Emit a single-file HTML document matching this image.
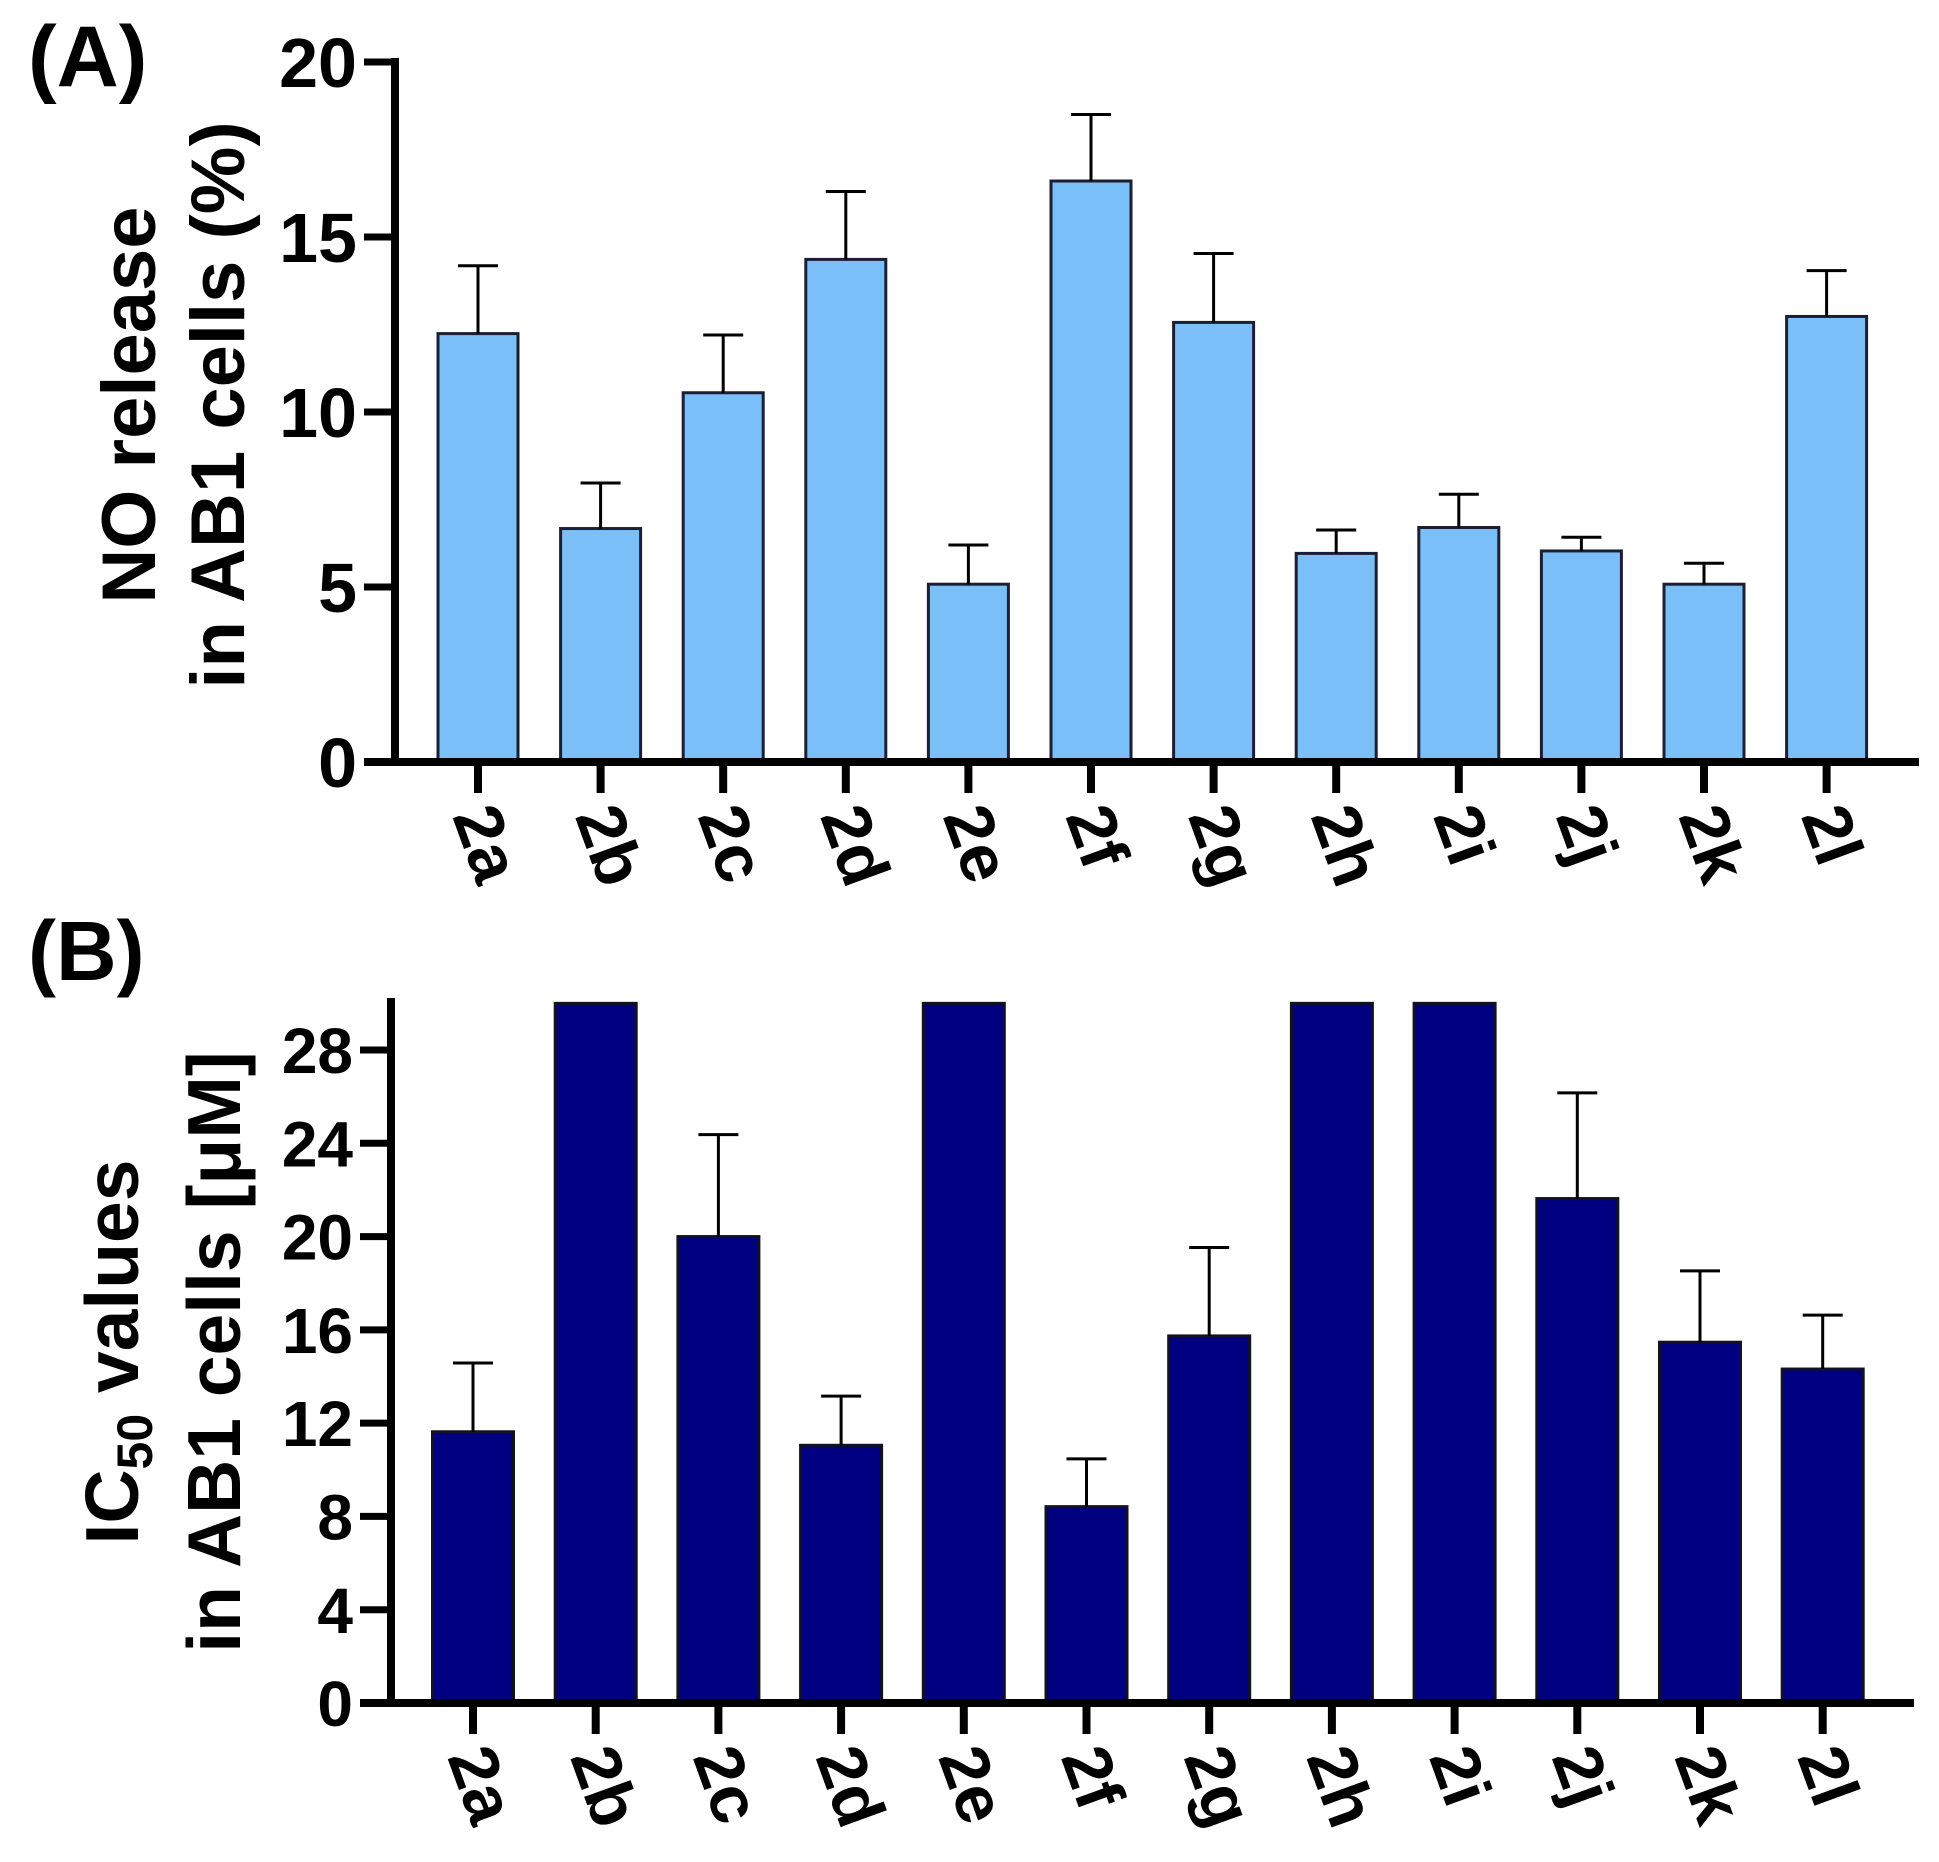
<!DOCTYPE html>
<html><head><meta charset="utf-8"><style>
html,body{margin:0;padding:0;background:#fff;}
svg{display:block;font-family:"Liberation Sans",Arial,sans-serif;font-weight:bold;}
</style></head><body>
<svg id="fig" width="1939" height="1862" viewBox="0 0 1939 1862">
<text x="28" y="86" font-size="86">(A)</text>
<text x="28" y="980" font-size="84">(B)</text>
<g>
<text transform="translate(155,405) rotate(-90)" text-anchor="middle" font-size="76">NO release</text>
<text transform="translate(244,405) rotate(-90)" text-anchor="middle" font-size="76">in AB1 cells (%)</text>
</g>
<g>
<text transform="translate(138,1352) rotate(-90)" text-anchor="middle" font-size="75">IC<tspan font-size="50" dy="14">50</tspan><tspan dy="-14"> values</tspan></text>
<text transform="translate(240,1352) rotate(-90)" text-anchor="middle" font-size="75">in AB1 cells [μM]</text>
</g>
<g id="chartA"></g>
<g id="chartB"></g>
</svg>
<script>
const categories = ["2a","2b","2c","2d","2e","2f","2g","2h","2i","2j","2k","2l"];
const noRelease = [12.24,6.67,10.55,14.36,5.08,16.6,12.56,5.96,6.7,6.03,5.08,12.73];
const noReleaseErr = [1.94,1.3,1.65,1.94,1.12,1.9,1.97,0.67,0.95,0.39,0.6,1.31];
const ic50 = [11.63,30,20.0,11.05,30,8.42,15.74,30,30,21.63,15.47,14.32];
const ic50Err = [2.95,0,4.37,2.11,0,2.05,3.79,0,0,4.53,3.06,2.31];
const ticksA = [0,5,10,15,20];
const ticksB = [0,4,8,12,16,20,24,28];

const NS="http://www.w3.org/2000/svg";
function mk(parent,tag,attrs){const e=document.createElementNS(NS,tag);for(const k in attrs)e.setAttribute(k,attrs[k]);parent.appendChild(e);return e;}

function drawChart(g,cfg){
  const yS=v=>cfg.y0-(v-cfg.ymin)*(cfg.y0-cfg.yTop)/(cfg.ymax-cfg.ymin);
  const xS=i=>cfg.x0c+i*cfg.pitch;
  cfg.vals.forEach((v,i)=>{
    const vv=Math.min(v,cfg.clip);
    const r=mk(g,'rect',{x:xS(i)-cfg.bw/2,y:yS(vv),width:cfg.bw,height:cfg.y0-yS(vv),fill:cfg.fill,stroke:cfg.stroke,'stroke-width':3});
    
    
    if(cfg.errs[i]>0){
      const top=yS(v+cfg.errs[i]);
      const l=mk(g,'path',{d:`M${xS(i)} ${yS(v)} V${top} M${xS(i)-20} ${top} H${xS(i)+20}`,stroke:'#000','stroke-width':3,fill:'none'});
      
      
    }
    const t=mk(g,'path',{d:`M${xS(i)} ${cfg.y0} V${cfg.y0+31}`,stroke:'#000','stroke-width':8});
    
    
    const lx=xS(i)-26, ly=cfg.y0+54;
    const tx=mk(g,'text',{transform:`translate(${lx},${ly}) rotate(70)`,'font-size':cfg.xfs});
    tx.textContent=categories[i];
    
    
  });
  const ya=mk(g,'path',{d:`M${cfg.ax} ${cfg.axTop} V${cfg.y0+4}`,stroke:'#000','stroke-width':8});
  
  
  const xa=mk(g,'path',{d:`M${cfg.ax-31} ${cfg.y0} H${cfg.xEnd}`,stroke:'#000','stroke-width':8});
  
  
  cfg.ticks.forEach(tv=>{
    const y=yS(tv);
    if(tv!==0){
      const tk=mk(g,'path',{d:`M${cfg.ax-31} ${y} H${cfg.ax}`,stroke:'#000','stroke-width':7});
      
      
    }
    const lb=mk(g,'text',{x:cfg.ax-38,y:y+cfg.tfs*0.36,'text-anchor':'end','font-size':cfg.tfs});
    lb.textContent=tv;
    
    
  });
}
drawChart(document.getElementById('chartA'),{vals:noRelease,errs:noReleaseErr,ticks:ticksA,ymin:0,ymax:20,y0:762,yTop:62,axTop:58,ax:395,x0c:478,pitch:122.6,bw:80,xEnd:1919,fill:'#7bbff9',stroke:'#1c1f33',clip:100,tfs:70,xfs:68});
drawChart(document.getElementById('chartB'),{vals:ic50,errs:ic50Err,ticks:ticksB,ymin:0,ymax:28,y0:1703,yTop:1050,axTop:998,ax:391,x0c:473,pitch:122.7,bw:81,xEnd:1914,fill:'#000080',stroke:'#111122',clip:30,tfs:64,xfs:68});
</script>
</body></html>
